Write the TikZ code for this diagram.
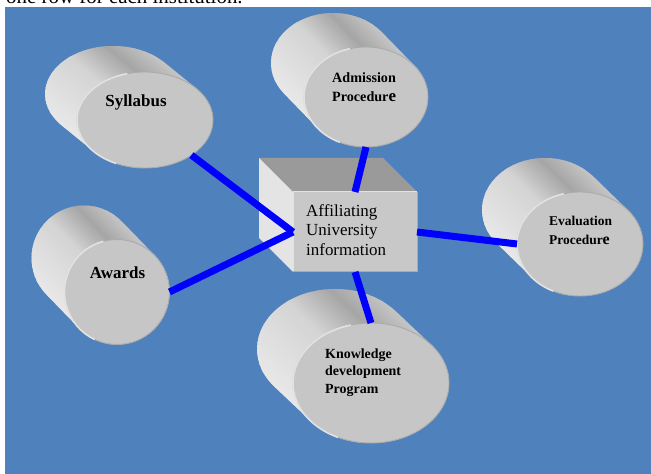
\documentclass[tikz,border=0pt]{standalone}
\usepackage{fontspec}
\setmainfont{Liberation Serif}
\usetikzlibrary{shapes.geometric}
\definecolor{bgblue}{HTML}{4F81BD}
\definecolor{connblue}{HTML}{0000FF}
\definecolor{gA}{HTML}{E8E8E8}
\definecolor{gB}{HTML}{D4D4D4}
\definecolor{gC}{HTML}{A6A6A6}
\definecolor{gD}{HTML}{C6C6C6}
\definecolor{faceC}{HTML}{C6C6C6}
\definecolor{rimL}{HTML}{E2E2E2}
\definecolor{rimD}{HTML}{ABABAB}
\definecolor{boxTop}{HTML}{9A9A9A}
\definecolor{boxLeft}{HTML}{E4E4E4}
\definecolor{boxFront}{HTML}{C8C8C8}
\tikzset{
  conn/.style={line width=7bp, draw=connblue},
  frontface/.style={ellipse, fill=faceC, draw=rimD, line width=0.9bp, inner sep=0pt, outer sep=0pt},
  rimlight/.style={draw=rimL, line width=1.6bp},
  boxfront/.style={rectangle, fill=boxFront, inner sep=0pt, outer sep=0pt, minimum width=124bp, minimum height=80bp},
  lbl/.style={inner sep=0pt, text=black},
}
% gradient segment: #1 f0, #2 f1, #3 colour at f0, #4 colour at f1, #5 steps
\newcommand\gradseg[5]{%
  \foreach \gI in {0,...,#5}{%
    \pgfmathsetmacro\gS{-\cW+2*\cW*(#1+(#2-#1)*\gI/#5)}%
    \pgfmathsetmacro\gD{2*\cW*(#2-#1)/#5+0.9}%
    \pgfmathsetmacro\gP{100-100*\gI/#5}%
    \fill[#3!\gP!#4] (\gS,-260) rectangle ({\gS+\gD},260);
  }%
}
% cylinder: #1 name, #2 cx, #3 cy, #4 rx, #5 ry, #6 dx, #7 dy
\newcommand\cylinder[7]{%
  \pgfmathsetmacro\cT{atan(-(#5)*(#6)/((#4)*(#7)))}%
  \pgfmathsetmacro\cTb{\cT+180}%
  \pgfmathsetmacro\cTc{\cT+360}%
  \pgfmathsetmacro\cNx{-(#6)}%
  \pgfmathsetmacro\cNy{-(#7)}%
  \pgfmathsetmacro\cL{sqrt((#6)*(#6)+(#7)*(#7))}%
  \pgfmathsetmacro\cVx{(#7)/\cL}%
  \pgfmathsetmacro\cVy{-(#6)/\cL}%
  \pgfmathsetmacro\cW{sqrt(((#4)*\cVx)^2+((#5)*\cVy)^2)}%
  \pgfmathsetmacro\cA{atan2(\cVy,\cVx)}%
  \pgfmathsetmacro\cMW{2*(#4)}%
  \pgfmathsetmacro\cMH{2*(#5)}%
  \begin{scope}
    \clip (#2,#3) ++(\cT:#4 and #5) -- ++(#6,#7)
      arc[start angle=\cT, end angle=\cTb, x radius=#4, y radius=#5]
      -- ++(\cNx,\cNy)
      arc[start angle=\cTb, end angle=\cTc, x radius=#4, y radius=#5] -- cycle;
    \begin{scope}[shift={(#2,#3)}, rotate=\cA]
      \gradseg{0}{0.5}{gA}{gB}{24}
      \gradseg{0.5}{0.78}{gB}{gC}{14}
      \gradseg{0.78}{1}{gC}{gD}{12}
    \end{scope}
  \end{scope}
  \node[frontface, minimum width=\cMW bp, minimum height=\cMH bp] (#1) at (#2,#3) {};
  \draw[rimlight] (#2,#3) ++(105:#4 and #5) arc[start angle=105, end angle=245, x radius=#4, y radius=#5];
}
\begin{document}
\begin{tikzpicture}[x=1bp, y=1bp]
\useasboundingbox (0,0) rectangle (651,474);
\fill[white] (0,0) rectangle (651,474);
\begin{scope}
  \clip (0,468) rectangle (651,474);
  \node[lbl, anchor=base west, font=\fontsize{21}{24}\selectfont] (toptext) at (6,470) {one row for each institution.};
\end{scope}
\fill[bgblue] (5,0) rectangle (651,467);

% central box
\fill[boxTop] (259,316) -- (383,316) -- (417,282) -- (293,282) -- cycle;
\fill[boxLeft] (259,316) -- (293,282) -- (293,202) -- (259,236) -- cycle;
\node[boxfront] (aff) at (355,242) {};
\draw[rimL, line width=1bp] (aff.south west) -- (aff.north west) -- (aff.north east);
\draw[rimD, line width=1bp] (aff.north east) -- (aff.south east) -- (aff.south west);
\node[lbl, anchor=west, align=left, font=\fontsize{17}{19.5}\selectfont] (afftxt) at (306,244) {Affiliating\\University\\information};

% cylinders
\cylinder{syl}{145}{354}{68}{48}{-32}{26}
\cylinder{adm}{366}{377}{62}{50}{-33}{34}
\cylinder{eva}{580}{230}{63}{52}{-35}{34}
\cylinder{awd}{117}{182}{52.5}{52.5}{-33}{34}
\cylinder{kno}{371}{91}{78}{60}{-36}{34}

\node[lbl, font=\bfseries\fontsize{17}{20}\selectfont] (sylt) at (136,372) {Syllabus};
\node[lbl, anchor=west, align=left, font=\bfseries\fontsize{14.2}{19}\selectfont] (admt) at (332,386.5) {Admission\\Procedur{\fontsize{17}{19}\selectfont e}};
\node[lbl, anchor=west, align=left, font=\bfseries\fontsize{13.5}{19}\selectfont] (evat) at (549,243.5) {Evaluation\\Procedur{\fontsize{16}{19}\selectfont e}};
\node[lbl, font=\bfseries\fontsize{17}{20}\selectfont] (awdt) at (117.5,201) {Awards};
\node[lbl, anchor=west, align=left, font=\bfseries\fontsize{14}{17.5}\selectfont] (knot) at (325,101.5) {Knowledge\\development\\Program};

% connectors
\draw[conn] (aff.west) -- (syl);
\draw[conn] (aff.west) -- (awd.east);
\draw[conn] (aff.north) -- (adm.south);
\draw[conn] (aff.east) -- (eva.west);
\draw[conn] (aff.south) -- (kno.north);
\end{tikzpicture}
\end{document}
